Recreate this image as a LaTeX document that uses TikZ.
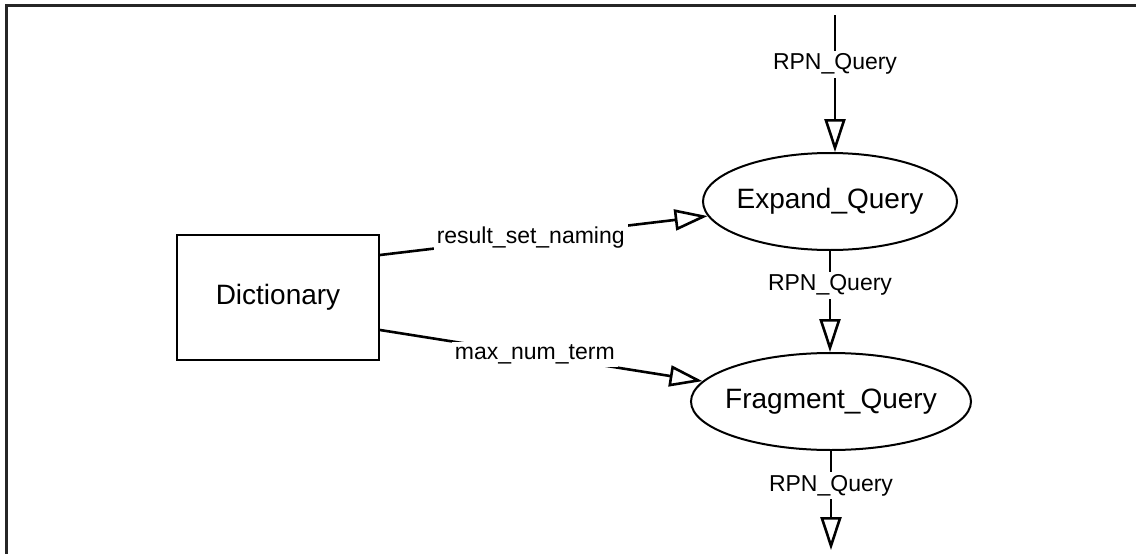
\documentclass[tikz,border=0pt]{standalone}
\usepackage{fontspec}
\setmainfont{Liberation Sans}
\usetikzlibrary{shapes.geometric,arrows.meta}
\tikzset{
  proc/.style={draw,ellipse,line width=2pt,inner xsep=-10pt,inner ysep=0pt,font=\fontsize{28}{32}\selectfont},
  store/.style={draw,rectangle,line width=2pt,inner sep=0pt,font=\fontsize{28}{32}\selectfont},
  flow/.style={line width=2.6pt,-{Triangle[open,length=33pt,width=21pt,line width=2.6pt]}},
  flowlabel/.style={fill=white,inner sep=3pt,font=\fontsize{23}{27}\selectfont}
}
\begin{document}
\begin{tikzpicture}[x=1pt,y=-1pt]
      \useasboundingbox (0,0) rectangle (1136,554);
      \draw[line width=3pt,color=black!85] (1136,5.5) -- (6,5.5) -- (6,554);
      \draw
        (278,297) node[store,minimum width=202pt,minimum height=125pt] (dict){Dictionary}
        (830,201.5) node[proc,minimum width=254pt,minimum height=97pt] (expand){Expand\_Query}
        (831,401.5) node[proc,minimum width=280pt,minimum height=97pt] (fragment){Fragment\_Query};
      \coordinate (in) at (835,15);
      \coordinate (out) at (831,550);
      \begin{scope}[flow]
        \draw (in) to node[flowlabel,pos=0.36]{RPN\_Query} (in |- expand.north);
        \draw (expand.south) to node[flowlabel,pos=0.34]{RPN\_Query} (expand.south |- fragment.north);
        \draw (fragment.south) to node[flowlabel,pos=0.35]{RPN\_Query} (out);
        \draw ([yshift=42pt]dict.east) to node[flowlabel,pos=0.46]{result\_set\_naming} (expand);
        \draw ([yshift=-33pt]dict.east) to node[flowlabel,pos=0.48]{max\_num\_term} (fragment);
      \end{scope}
    \end{tikzpicture}
\end{document}
